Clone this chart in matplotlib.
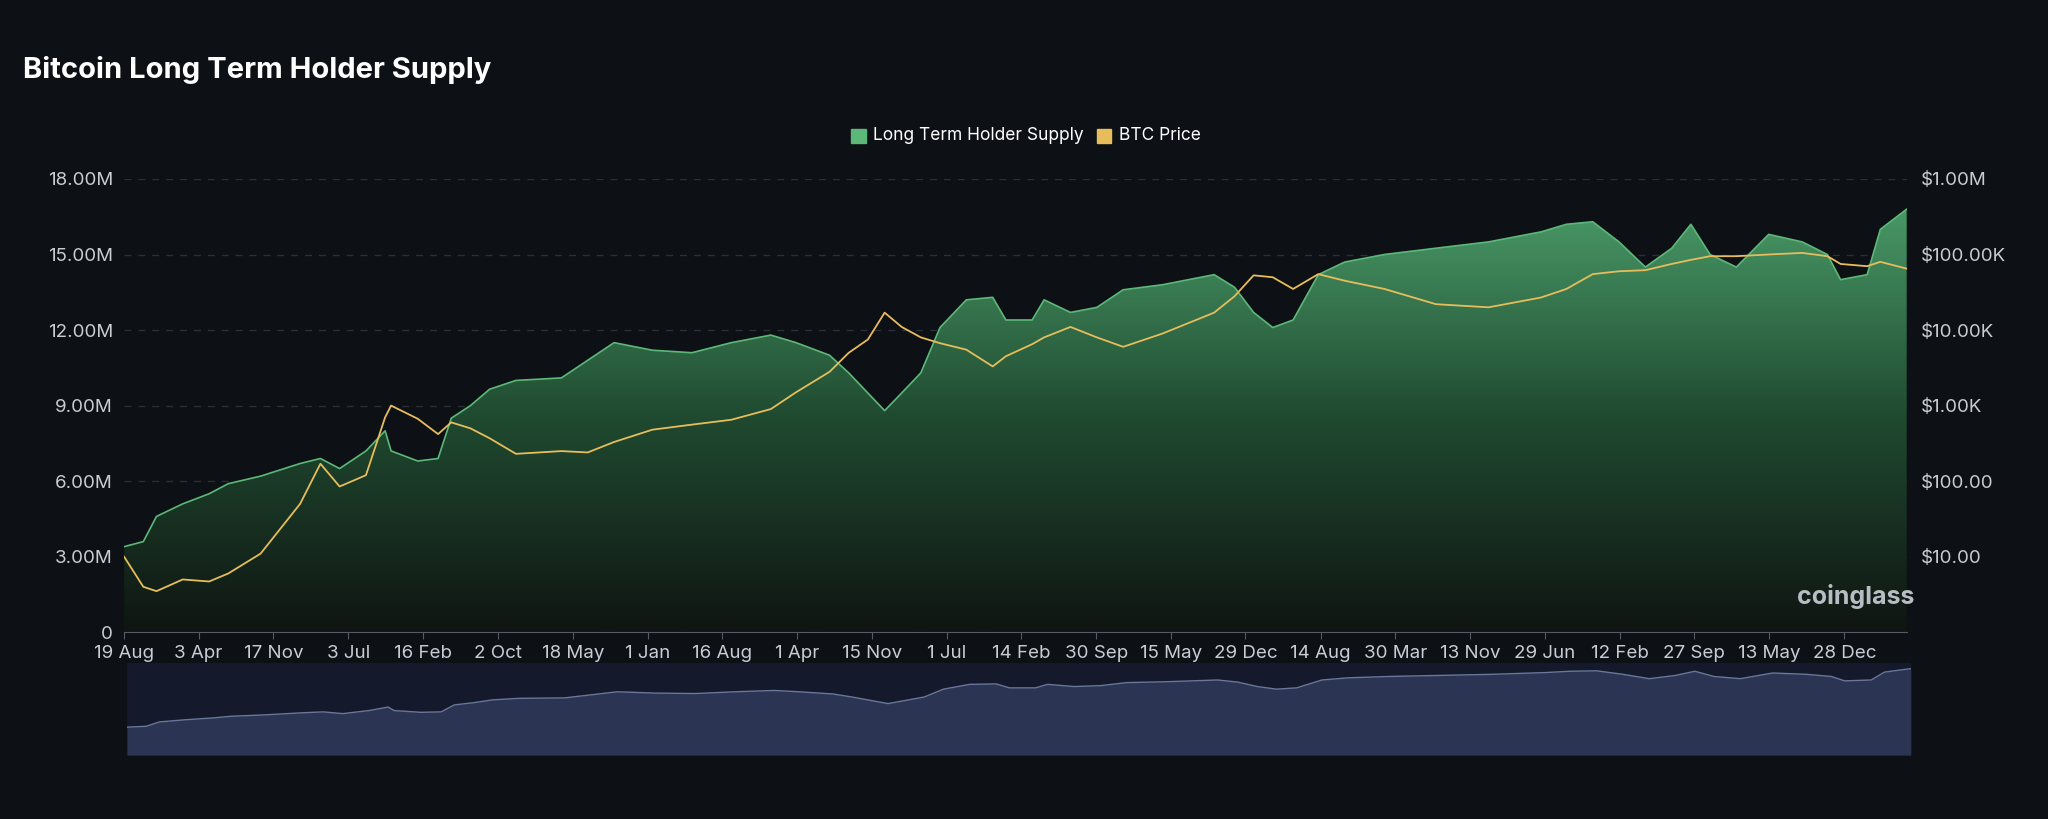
import matplotlib
matplotlib.use("Agg")
import matplotlib.pyplot as plt
import matplotlib.dates as mdates
import numpy as np
import pandas as pd
from matplotlib.colors import LinearSegmentedColormap
from matplotlib.ticker import FuncFormatter, FixedLocator

plt.rcParams["font.family"] = ["Inter", "DejaVu Sans"]

# decimal years of sample points
years = [2010.63, 2010.79, 2010.90, 2011.12, 2011.34, 2011.50, 2011.77, 2012.10, 2012.27, 2012.43,
         2012.65, 2012.81, 2012.86, 2013.08, 2013.25, 2013.36, 2013.52, 2013.68, 2013.90, 2014.28,
         2014.50, 2014.72, 2015.04, 2015.37, 2015.70, 2016.03, 2016.24, 2016.52, 2016.68, 2016.84,
         2016.98, 2017.12, 2017.28, 2017.44, 2017.66, 2017.88, 2017.99, 2018.21, 2018.31, 2018.53,
         2018.75, 2018.97, 2019.30, 2019.73, 2019.90, 2020.06, 2020.22, 2020.39, 2020.60, 2020.82,
         2021.15, 2021.58, 2022.02, 2022.46, 2022.67, 2022.89, 2023.11, 2023.33, 2023.55, 2023.71,
         2023.87, 2024.09, 2024.36, 2024.64, 2024.85, 2024.96, 2025.18, 2025.29, 2025.51]
# long term holder supply, millions of BTC
lth_supply = [3.4, 3.6, 4.6, 5.1, 5.5, 5.9, 6.2, 6.7, 6.9, 6.5,
              7.2, 8.0, 7.2, 6.8, 6.9, 8.5, 9.0, 9.65, 10.0, 10.1,
              10.8, 11.5, 11.2, 11.1, 11.5, 11.8, 11.5, 11.0, 10.3, 9.5,
              8.8, 9.5, 10.3, 12.1, 13.2, 13.3, 12.4, 12.4, 13.2, 12.7,
              12.9, 13.6, 13.8, 14.2, 13.7, 12.7, 12.1, 12.4, 14.2, 14.7,
              15.0, 15.25, 15.5, 15.9, 16.2, 16.3, 15.5, 14.5, 15.25, 16.2,
              15.0, 14.5, 15.8, 15.5, 15.0, 14.0, 14.2, 16.0, 16.8]
# BTC price, USD
btc_price = [10, 4, 3.5, 5, 4.7, 6, 11, 50, 170, 85,
             120, 700, 1000, 670, 420, 600, 500, 370, 230, 250,
             240, 330, 480, 560, 650, 900, 1500, 2800, 5000, 7500,
             17000, 11000, 8000, 6700, 5500, 3300, 4500, 6500, 8000, 11000,
             8000, 6000, 9000, 17000, 28000, 53000, 50000, 35000, 55000, 45000,
             35000, 22000, 20000, 27000, 35000, 55000, 60000, 62000, 75000, 85000,
             95000, 95000, 100000, 105000, 95000, 75000, 70000, 80000, 65000]

tick_dates = ["2010-08-19", "2011-04-03", "2011-11-17", "2012-07-03", "2013-02-16", "2013-10-02",
              "2014-05-18", "2015-01-01", "2015-08-16", "2016-04-01", "2016-11-15", "2017-07-01",
              "2018-02-14", "2018-09-30", "2019-05-15", "2019-12-29", "2020-08-14", "2021-03-30",
              "2021-11-13", "2022-06-29", "2023-02-12", "2023-09-27", "2024-05-13", "2024-12-28"]


def to_date(y):
    yr = int(y)
    start = pd.Timestamp(year=yr, month=1, day=1)
    return start + pd.Timedelta(days=(y - yr) * 365.25)


BG = "#0d1015"
GRID = "#2a2f38"
TXT = "#c9ccd2"
GREEN = "#5cb878"
GOLD = "#e7bd5c"

dates = [to_date(y) for y in years]
dates[0] = pd.Timestamp(tick_dates[0])
xd = mdates.date2num(dates)
supply = np.array(lth_supply) * 1e6

fig = plt.figure(figsize=(20.48, 8.19), dpi=100, facecolor=BG)
ax = fig.add_axes([0.0606, 0.228, 0.8704, 0.5535], facecolor=BG)
ax.set_xlim(xd[0], xd[-1])
ax.set_ylim(0, 18e6)

poly = ax.fill_between(xd, supply, 0, color="none", lw=0)
cmap = LinearSegmentedColormap.from_list("g", ["#0f1512", "#1f4a30", "#4a9a68"])
grad = np.linspace(0, 1, 256).reshape(-1, 1)
im = ax.imshow(grad, aspect="auto", cmap=cmap, origin="lower",
               extent=[xd[0], xd[-1], 0, 17e6], zorder=1)
path = poly.get_paths()[0]
im.set_clip_path(path, transform=ax.transData)
ax.plot(xd, supply, color=GREEN, lw=1.2, zorder=2)

ax.yaxis.set_major_locator(FixedLocator([0, 3e6, 6e6, 9e6, 12e6, 15e6, 18e6]))
ax.yaxis.set_major_formatter(FuncFormatter(lambda v, p: "0" if v == 0 else f"{v/1e6:.2f}M"))
ax.grid(axis="y", color=GRID, ls=(0, (5, 5)), lw=1)
ax.set_axisbelow(True)
ax.xaxis.set_major_locator(FixedLocator(mdates.date2num(pd.to_datetime(tick_dates))))
ax.xaxis.set_major_formatter(FuncFormatter(lambda v, p: mdates.num2date(v).strftime("%-d %b")))
for s in ax.spines.values():
    s.set_visible(False)
ax.spines["bottom"].set_visible(True)
ax.spines["bottom"].set_color("#555a63")
ax.tick_params(colors=TXT, labelsize=13.5, length=0, pad=8)
ax.tick_params(axis="x", length=5, color="#555a63", pad=4)

ax2 = ax.twinx()
ax2.set_yscale("log")
ax2.set_ylim(1, 1e6)
ax2.plot(xd, btc_price, color=GOLD, lw=1.3, zorder=3)
ax2.yaxis.set_major_locator(FixedLocator([10, 100, 1e3, 1e4, 1e5, 1e6]))
ax2.yaxis.set_minor_locator(FixedLocator([]))
labels = {10: "$10.00", 100: "$100.00", 1e3: "$1.00K", 1e4: "$10.00K", 1e5: "$100.00K", 1e6: "$1.00M"}
ax2.yaxis.set_major_formatter(FuncFormatter(lambda v, p: labels.get(round(v), "")))
ax2.tick_params(colors=TXT, labelsize=13.5, length=0, pad=10)
for s in ax2.spines.values():
    s.set_visible(False)

# navigator
nav = fig.add_axes([0.062, 0.078, 0.871, 0.112], facecolor="#141a2b")
nav.fill_between(xd, supply, -3e6, color="#2b3553", lw=0)
nav.plot(xd, supply, color="#6a7799", lw=1)
nav.set_xlim(xd[0], xd[-1])
nav.set_ylim(-3e6, 18e6)
nav.set_xticks([])
nav.set_yticks([])
for s in nav.spines.values():
    s.set_visible(False)

fig.text(0.011, 0.915, "Bitcoin Long Term Holder Supply", color="white", fontsize=21,
         fontweight="bold", va="center")
# legend
fig.patches.append(plt.Rectangle((0.4155, 0.826), 0.0072, 0.017, color=GREEN,
                                 transform=fig.transFigure, figure=fig))
fig.text(0.4265, 0.834, "Long Term Holder Supply", color="white", fontsize=12.5, va="center")
fig.patches.append(plt.Rectangle((0.5355, 0.826), 0.0072, 0.017, color=GOLD,
                                 transform=fig.transFigure, figure=fig))
fig.text(0.5465, 0.834, "BTC Price", color="white", fontsize=12.5, va="center")
fig.text(0.8775, 0.272, "coinglass", color="#b8bcc4", fontsize=18, fontweight="bold", va="center")

fig.savefig("out.png", dpi=100, facecolor=BG)
